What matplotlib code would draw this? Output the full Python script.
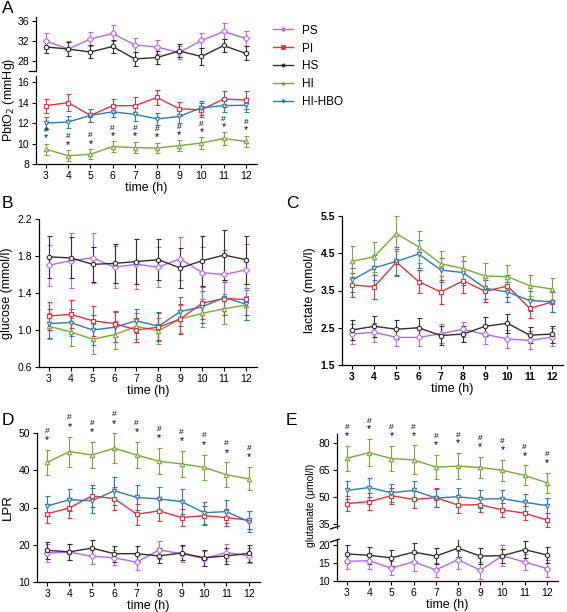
import numpy as np
import matplotlib
matplotlib.use("Agg")
import matplotlib.pyplot as plt
from matplotlib.lines import Line2D

plt.rcParams['font.family'] = ['Liberation Sans', 'DejaVu Sans']
plt.rcParams['font.size'] = 7

W, H = 567, 612

hours = [3, 4, 5, 6, 7, 8, 9, 10, 11, 12]
groups = ['PS', 'PI', 'HS', 'HI', 'HI-HBO']
colors = {'PS': '#b36be6', 'PI': '#d7373c', 'HS': '#2e2e2e',
          'HI': '#78a83a', 'HI-HBO': '#3479ab'}
markers = {'PS': 'D', 'PI': 's', 'HS': 'o', 'HI': '^', 'HI-HBO': 'v'}

# A: PbtO2 (mmHg)
pbto2 = {
    'PS':     [32.0, 30.4, 32.4, 33.5, 31.2, 30.8, 29.7, 32.1, 33.9, 32.5],
    'PI':     [13.7, 14.0, 12.75, 13.7, 13.7, 14.5, 13.4, 13.3, 14.35, 14.25],
    'HS':     [30.8, 30.4, 29.8, 30.9, 28.4, 28.7, 30.0, 28.9, 31.1, 29.5],
    'HI':     [9.45, 8.8, 8.95, 9.7, 9.6, 9.55, 9.8, 10.05, 10.5, 10.2],
    'HI-HBO': [12.0, 12.1, 12.75, 13.1, 12.85, 12.4, 12.65, 13.5, 13.7, 13.75],
}
pbto2_err = {
    'PS':     [1.5, 1.5, 1.4, 1.6, 1.4, 1.4, 1.3, 1.5, 1.6, 1.5],
    'PI':     [0.7, 0.8, 0.6, 0.7, 0.8, 0.7, 0.7, 0.7, 0.8, 0.9],
    'HS':     [1.3, 1.4, 1.3, 1.3, 1.4, 1.3, 1.3, 1.6, 1.3, 1.4],
    'HI':     [0.55, 0.55, 0.5, 0.5, 0.55, 0.5, 0.5, 0.55, 0.6, 0.55],
    'HI-HBO': [0.6, 0.6, 0.6, 0.5, 0.6, 0.6, 0.6, 0.7, 0.6, 0.7],
}

# B: glucose (mmol/l)
glucose = {
    'PS':     [1.70, 1.75, 1.78, 1.68, 1.71, 1.68, 1.77, 1.62, 1.60, 1.65],
    'PI':     [1.15, 1.17, 1.10, 1.07, 1.00, 1.03, 1.12, 1.29, 1.34, 1.33],
    'HS':     [1.79, 1.78, 1.71, 1.72, 1.74, 1.76, 1.67, 1.75, 1.81, 1.76],
    'HI':     [1.04, 0.98, 0.90, 0.95, 1.04, 0.99, 1.12, 1.18, 1.23, 1.27],
    'HI-HBO': [1.07, 1.08, 1.00, 1.03, 1.10, 1.04, 1.20, 1.25, 1.35, 1.28],
}
glucose_err = {
    'PS':     [0.22, 0.30, 0.27, 0.23, 0.27, 0.22, 0.23, 0.28, 0.27, 0.28],
    'PI':     [0.15, 0.15, 0.16, 0.14, 0.13, 0.15, 0.16, 0.17, 0.18, 0.17],
    'HS':     [0.23, 0.22, 0.19, 0.21, 0.24, 0.22, 0.22, 0.27, 0.27, 0.26],
    'HI':     [0.14, 0.15, 0.16, 0.15, 0.14, 0.14, 0.15, 0.15, 0.16, 0.16],
    'HI-HBO': [0.16, 0.15, 0.16, 0.16, 0.13, 0.15, 0.16, 0.17, 0.19, 0.17],
}

# C: lactate (mmol/l)
lactate = {
    'PS':     [2.33, 2.38, 2.24, 2.24, 2.34, 2.46, 2.32, 2.20, 2.16, 2.25],
    'PI':     [3.65, 3.60, 4.26, 3.74, 3.46, 3.76, 3.48, 3.62, 3.02, 3.19],
    'HS':     [2.44, 2.54, 2.46, 2.50, 2.29, 2.33, 2.54, 2.62, 2.30, 2.33],
    'HI':     [4.28, 4.41, 5.03, 4.67, 4.22, 4.09, 3.89, 3.87, 3.63, 3.54],
    'HI-HBO': [3.78, 4.11, 4.28, 4.48, 4.05, 3.98, 3.56, 3.46, 3.23, 3.20],
}
lactate_err = {
    'PS':     [0.27, 0.26, 0.24, 0.24, 0.26, 0.20, 0.25, 0.24, 0.24, 0.23],
    'PI':     [0.33, 0.32, 0.35, 0.30, 0.33, 0.32, 0.30, 0.30, 0.25, 0.26],
    'HS':     [0.28, 0.28, 0.26, 0.25, 0.25, 0.22, 0.26, 0.25, 0.22, 0.23],
    'HI':     [0.42, 0.40, 0.48, 0.42, 0.34, 0.34, 0.34, 0.31, 0.29, 0.30],
    'HI-HBO': [0.33, 0.33, 0.38, 0.38, 0.33, 0.32, 0.28, 0.28, 0.27, 0.27],
}

# D: LPR
lpr = {
    'PS':     [17.8, 18.0, 16.9, 16.5, 15.3, 18.6, 17.6, 16.3, 17.9, 17.0],
    'PI':     [28.3, 29.9, 33.1, 32.4, 28.2, 29.1, 27.3, 27.8, 27.3, 26.6],
    'HS':     [18.5, 18.1, 19.1, 17.6, 17.6, 17.0, 17.8, 16.5, 17.0, 17.7],
    'HI':     [42.1, 45.0, 44.1, 45.9, 44.1, 42.4, 41.7, 40.8, 38.8, 37.7],
    'HI-HBO': [30.4, 32.1, 31.8, 34.5, 32.7, 32.3, 31.6, 28.6, 28.9, 26.2],
}
lpr_err = {
    'PS':     [2.3, 2.2, 2.2, 2.0, 2.0, 2.5, 2.1, 2.0, 2.3, 2.0],
    'PI':     [2.5, 2.6, 3.0, 3.0, 2.8, 2.8, 2.4, 2.6, 2.3, 2.4],
    'HS':     [2.3, 2.2, 2.1, 2.1, 2.0, 2.0, 2.0, 2.1, 2.1, 2.3],
    'HI':     [3.3, 4.0, 3.5, 4.0, 3.5, 3.5, 3.5, 3.4, 3.3, 3.1],
    'HI-HBO': [2.7, 3.0, 3.4, 3.8, 3.3, 3.1, 3.3, 2.9, 3.0, 2.9],
}

# E: glutamate (umol/l)
glutamate = {
    'PS':     [15.5, 15.7, 13.6, 15.4, 13.1, 16.0, 13.0, 17.1, 15.3, 13.5],
    'PI':     [46.5, 47.6, 50.9, 48.8, 49.8, 45.7, 45.9, 43.0, 41.2, 37.4],
    'HS':     [17.6, 17.2, 16.5, 18.1, 17.0, 19.2, 17.0, 17.1, 18.8, 17.3],
    'HI':     [71.6, 74.7, 71.4, 70.7, 66.7, 67.2, 66.5, 64.9, 62.1, 58.0],
    'HI-HBO': [53.8, 55.4, 52.5, 53.8, 49.6, 50.3, 49.0, 49.2, 47.2, 45.4],
}
glutamate_err = {
    'PS':     [2.0, 2.2, 2.0, 2.5, 2.0, 2.5, 2.3, 3.0, 2.2, 2.3],
    'PI':     [4.3, 4.6, 4.5, 4.6, 5.2, 4.2, 4.0, 4.0, 4.0, 3.8],
    'HS':     [2.5, 2.3, 2.2, 2.5, 2.3, 2.5, 2.3, 2.0, 2.4, 2.2],
    'HI':     [6.8, 7.5, 7.0, 8.0, 6.8, 7.2, 6.0, 5.8, 5.5, 5.6],
    'HI-HBO': [5.0, 5.4, 5.0, 5.2, 5.0, 5.0, 5.2, 5.0, 4.8, 4.2],
}


def rect(l, r, t, b):
    return [l / W, 1 - b / H, (r - l) / W, (b - t) / H]


def style(ax, xaxis=True, bold=False):
    ax.spines['top'].set_visible(False)
    ax.spines['right'].set_visible(False)
    ax.set_xlim(2.55, 12.5)
    ax.tick_params(direction='out', length=3, width=0.8, labelsize=7.5, pad=2)
    ax.spines['left'].set_linewidth(0.9)
    ax.spines['bottom'].set_linewidth(0.9)
    if xaxis:
        ax.set_xticks(hours)
        ax.set_xlabel('time (h)', fontsize=9, labelpad=1)
    else:
        ax.spines['bottom'].set_visible(False)
        ax.set_xticks([])
    if bold:
        for lab in ax.get_xticklabels() + ax.get_yticklabels():
            lab.set_fontweight('bold')


def draw(ax, data, err, names):
    for g in names:
        ax.errorbar(hours, data[g], yerr=err[g], color=colors[g],
                    marker=markers[g], markersize=3.2, mfc='white', mew=0.8,
                    lw=1.0, elinewidth=0.8, capsize=1.8, capthick=0.8, label=g)


def stars(ax, data, err, d1, d2):
    for x, m, e in zip(hours, data['HI'], err['HI']):
        ax.annotate('*', (x, m + e), xytext=(0, d1), textcoords='offset points',
                    ha='center', va='center', fontsize=7.5)
        ax.annotate('#', (x, m + e), xytext=(0, d2), textcoords='offset points',
                    ha='center', va='center', fontsize=6)


fig = plt.figure(figsize=(W / 100, H / 100), dpi=100)

# ---- A (broken axis)
axA1 = fig.add_axes(rect(36, 257, 17, 71))
axA2 = fig.add_axes(rect(36, 257, 76, 164))
draw(axA1, pbto2, pbto2_err, ['PS', 'HS'])
draw(axA2, pbto2, pbto2_err, ['PI', 'HI', 'HI-HBO'])
axA1.set_ylim(26, 36.8)
axA1.set_yticks([28, 32, 36])
axA2.set_ylim(8, 16.6)
axA2.set_yticks([8, 10, 12, 14, 16])
style(axA1, xaxis=False)
style(axA2)
axA1.plot([-0.03, 0], [0, 0], transform=axA1.transAxes, color='k', lw=0.9, clip_on=False)
stars(axA2, pbto2, pbto2_err, 4, 9.5)
fig.text(9 / W, 1 - 100 / H, 'PbtO$_2$ (mmHg)', rotation=90, ha='center', va='center', fontsize=9)

# legend
handles = [Line2D([], [], color=colors[g], marker=markers[g], markersize=2.2,
                  mfc=colors[g], mew=0.6, lw=1.0) for g in groups]
fig.legend(handles, groups, loc='upper left',
           bbox_to_anchor=(262 / W, 1 - 14 / H), frameon=False, fontsize=8.5,
           handlelength=1.7, labelspacing=0.5, handletextpad=0.8)

# ---- B
axB = fig.add_axes(rect(39, 257, 219, 367))
draw(axB, glucose, glucose_err, ['HI', 'HI-HBO', 'PI', 'PS', 'HS'])
axB.set_ylim(0.6, 2.2)
axB.set_yticks([0.6, 1.0, 1.4, 1.8, 2.2])
axB.set_yticklabels(['0.6', '1.0', '1.4', '1.8', '2.2'])
style(axB)
axB.set_ylabel('glucose (mmol/l)', fontsize=9, labelpad=3)

# ---- C
axC = fig.add_axes(rect(342, 563, 216, 365))
draw(axC, lactate, lactate_err, ['PS', 'HS', 'PI', 'HI-HBO', 'HI'])
axC.set_ylim(1.5, 5.5)
axC.set_yticks([1.5, 2.5, 3.5, 4.5, 5.5])
style(axC, bold=True)
axC.set_ylabel('lactate (mmol/l)', fontsize=9, labelpad=3)

# ---- D
axD = fig.add_axes(rect(37, 260, 433, 582))
draw(axD, lpr, lpr_err, ['PS', 'HS', 'PI', 'HI-HBO', 'HI'])
axD.set_ylim(10, 50)
axD.set_yticks([10, 20, 30, 40, 50])
style(axD)
axD.set_ylabel('LPR', fontsize=9.5, labelpad=3)
stars(axD, lpr, lpr_err, 7, 13.5)

# ---- E (broken axis)
axE1 = fig.add_axes(rect(337, 558, 434, 528))
axE2 = fig.add_axes(rect(337, 558, 540, 581))
draw(axE1, glutamate, glutamate_err, ['PI', 'HI-HBO', 'HI'])
draw(axE2, glutamate, glutamate_err, ['PS', 'HS'])
axE1.set_ylim(33, 85)
axE1.set_yticks([35, 50, 65, 80])
axE2.set_ylim(10, 21.5)
axE2.set_yticks([10, 15, 20])
style(axE1, xaxis=False)
style(axE2)
axE1.plot([-0.03, 0.01], [-0.01, 0.02], transform=axE1.transAxes, color='k', lw=0.9, clip_on=False)
axE2.plot([-0.03, 0.01], [0.95, 1.02], transform=axE2.transAxes, color='k', lw=0.9, clip_on=False)
stars(axE1, glutamate, glutamate_err, 7, 13)
fig.text(311 / W, 1 - 505 / H, 'glutamate (\u03bcmol/l)', rotation=90, ha='center', va='center', fontsize=7.5)

# panel letters
for lab, x, y in [('A', 2, 1), ('B', 2, 196), ('C', 286, 196), ('D', 2, 413), ('E', 286, 413)]:
    fig.text(x / W, 1 - y / H, lab, fontsize=12.5, ha='left', va='top')

fig.savefig('out.png', dpi=100)
